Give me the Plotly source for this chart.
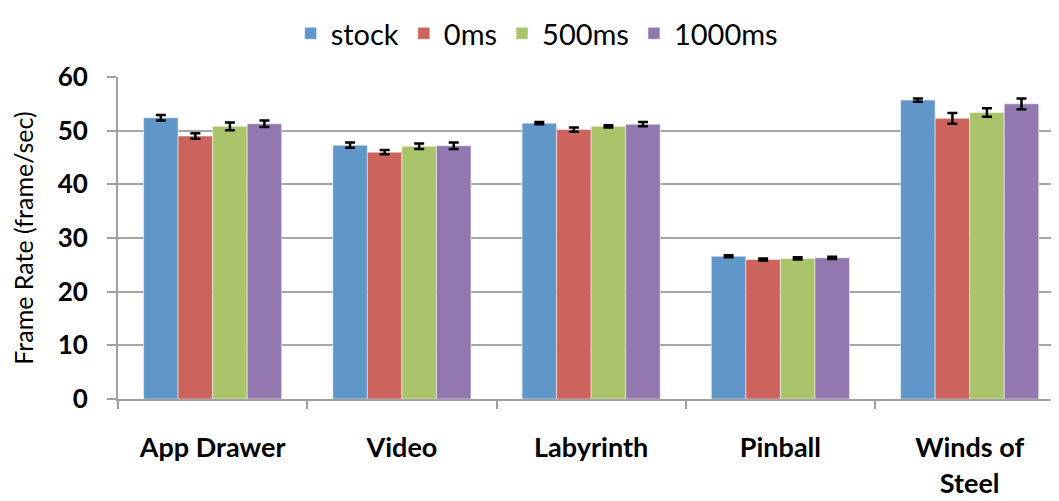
import plotly.graph_objects as go

categories = ["App Drawer", "Video", "Labyrinth", "Pinball", "Winds of<br>Steel"]
series_names = ["stock", "0ms", "500ms", "1000ms"]
stock = [52.4, 47.3, 51.4, 26.6, 55.7]
ms0 = [49.0, 46.0, 50.2, 26.0, 52.3]
ms500 = [50.8, 47.1, 50.8, 26.2, 53.4]
ms1000 = [51.3, 47.2, 51.2, 26.3, 55.0]
err_stock = [0.5, 0.5, 0.2, 0.2, 0.3]
err_0 = [0.5, 0.4, 0.4, 0.2, 1.0]
err_500 = [0.7, 0.5, 0.2, 0.2, 0.8]
err_1000 = [0.6, 0.6, 0.4, 0.2, 1.0]
y_ticks = [0, 10, 20, 30, 40, 50, 60]

colors = ["#6096c8", "#cc635c", "#a9c46a", "#9378b0"]
values = [stock, ms0, ms500, ms1000]
errors = [err_stock, err_0, err_500, err_1000]

FONT = "Lato, Open Sans, sans-serif"

fig = go.Figure()
for name, vals, errs, col in zip(series_names, values, errors, colors):
    fig.add_trace(go.Bar(
        name=name, x=categories, y=vals,
        marker=dict(color=col, line=dict(color="rgba(255,255,255,0.5)", width=1)),
        error_y=dict(type="data", array=errs, visible=True, color="black",
                     thickness=2.5, width=5),
    ))

fig.update_layout(
    width=1051, height=493,
    barmode="group", bargap=0.27, bargroupgap=0,
    plot_bgcolor="white", paper_bgcolor="white",
    margin=dict(l=110, r=0, t=69, b=102, autoexpand=False),
    font=dict(family=FONT, color="black"),
    legend=dict(orientation="h", x=0.503, xref="container", xanchor="center",
                y=1.0, yref="container", yanchor="top",
                font=dict(size=29, family=FONT), itemwidth=30, traceorder="normal"),
    showlegend=True,
)
fig.update_yaxes(
    range=[0, 60], tickvals=y_ticks, ticks="outside", ticklen=9, tickcolor="#a0a0a0",
    tickwidth=2, showgrid=True, gridcolor="#a6a6a6", gridwidth=2,
    showline=True, linecolor="#a0a0a0", linewidth=2, zeroline=False,
    tickfont=dict(size=26, family=FONT, weight="bold"), automargin=False,
    ticklabelstandoff=14,
    title=dict(text="Frame Rate (frame/sec)", font=dict(size=25, family=FONT), standoff=18),
)
fig.update_xaxes(
    range=[-0.5, 4.472],
    tickson="boundaries", ticks="outside", ticklen=8, tickcolor="#a0a0a0", tickwidth=2,
    showline=True, linecolor="#a0a0a0", linewidth=2, automargin=False,
    tickfont=dict(size=27, family=FONT, weight="bold"),
    ticklabelstandoff=24,
)

fig.write_html("out.html")
